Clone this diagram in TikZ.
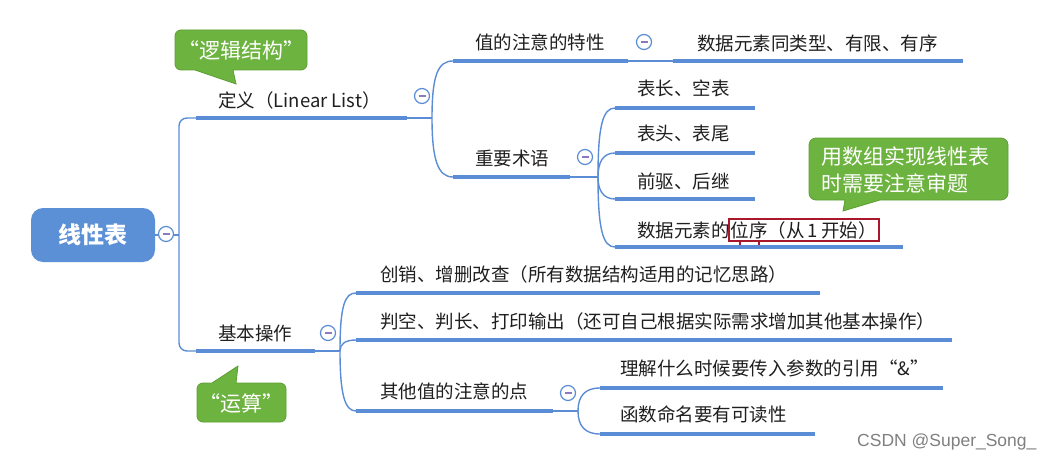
\documentclass[tikz,border=0pt]{standalone}
\usepackage{fontspec}
\setmainfont{Noto Sans CJK SC}
\newfontfamily\wmfont{Liberation Sans}
\definecolor{lineblue}{HTML}{5B8DD6}
\definecolor{rootblue}{HTML}{5B8FD6}
\definecolor{cgreen}{HTML}{6DB33F}
\definecolor{cgreenb}{HTML}{5E9E35}
\definecolor{boxred}{HTML}{A8172A}
\definecolor{minus}{HTML}{8A7BC0}
\tikzset{
  txt/.style={anchor=west,inner sep=0pt,font=\fontsize{18.5}{22}\selectfont,text=black!88},
  uline/.style={draw=lineblue,line width=4pt},
  conn/.style={draw=lineblue,line width=1.4pt},
  collapse/.style={circle,draw=lineblue,fill=white,line width=1.2pt,minimum size=15pt,inner sep=0pt},
  cbox/.style={fill=cgreen,draw=cgreenb,line width=0.8pt},
  ctext/.style={text=white,font=\fontsize{21}{27}\selectfont,inner sep=0pt},
}
\newcommand{\minusmark}[1]{\draw[minus,line width=1.3pt] ([xshift=-3.5pt]#1.center) -- ([xshift=3.5pt]#1.center);}
\begin{document}
\begin{tikzpicture}[x=1pt,y=-1pt]
\useasboundingbox (0,0) rectangle (1058,460);
\fill[white] (0,0) rectangle (1058,460);

% ---------- root ----------
\node[fill=rootblue,rounded corners=12pt,minimum width=124pt,minimum height=54pt,inner sep=0pt,
      text=white,font=\fontsize{23}{28}\selectfont\bfseries] (root) at (93,235) {线性表};

% trunk coordinates
\coordinate (trunkT) at (179,118);
\coordinate (trunkB) at (179,351);
\coordinate (defL) at (196,118);   \coordinate (defR) at (407,118);
\coordinate (opL) at (196,351);    \coordinate (opR) at (315,351);

\draw[conn] (root.east) -- (179,235);
\draw[conn,rounded corners=8pt] (defL) -- (trunkT) -- (trunkB) -- (opL);
\node[collapse] (c0) at (166,234) {};
\minusmark{c0}

% ---------- 定义 ----------
\draw[uline] (defL) -- (defR);
\node[txt] (def) at (218,100) {定义（Linear List）};

\coordinate (defB) at (432,118);
\coordinate (valL) at (453,61);   \coordinate (valR) at (628,61);
\coordinate (termL) at (453,177); \coordinate (termR) at (570,177);
\draw[conn] (defR) -- (defB);
\draw[conn] (defB) .. controls (432,75) and (438,61) .. (valL);
\draw[conn] (defB) .. controls (432,160) and (438,177) .. (termL);
\node[collapse] (c1) at (422,96) {};
\minusmark{c1}

% 值的注意的特性
\draw[uline] (valL) -- (valR);
\node[txt] (val) at (475,42) {值的注意的特性};
\coordinate (propL) at (673,61); \coordinate (propR) at (963,61);
\draw[conn] (valR) -- (propL);
\draw[uline] (propL) -- (propR);
\node[collapse] (c2) at (644,42) {};
\minusmark{c2}
\node[txt] (prop) at (697,43) {数据元素同类型、有限、有序};

% 重要术语
\draw[uline] (termL) -- (termR);
\node[txt] (term) at (475,158) {重要术语};
\node[collapse] (c3) at (585,157) {};
\minusmark{c3}

\coordinate (termB) at (598,177);
\coordinate (t1L) at (615,108); \coordinate (t1R) at (755,108);
\coordinate (t2L) at (615,153); \coordinate (t2R) at (755,153);
\coordinate (t3L) at (615,199); \coordinate (t3R) at (755,199);
\coordinate (t4L) at (615,247); \coordinate (t4R) at (903,247);
\draw[conn] (termR) -- (termB);
\draw[conn] (termB) .. controls (598,125) and (603,108) .. (t1L);
\draw[conn] (termB) .. controls (598,162) and (603,153) .. (t2L);
\draw[conn] (termB) .. controls (598,190) and (603,199) .. (t3L);
\draw[conn] (termB) .. controls (598,230) and (603,247) .. (t4L);
\draw[uline] (t1L) -- (t1R);
\draw[uline] (t2L) -- (t2R);
\draw[uline] (t3L) -- (t3R);
\draw[uline] (t4L) -- (t4R);
\node[txt] (t1) at (637,88) {表长、空表};
\node[txt] (t2) at (637,133) {表头、表尾};
\node[txt] (t3) at (637,181) {前驱、后继};
\node[txt] (t4a) at (637,230) {数据元素的};
\node[txt,anchor=west,draw=boxred,line width=2pt,inner xsep=2pt,inner ysep=2pt,text=black!88] (t4b)
     at ([xshift=-2pt]t4a.east) {位序（从\,1\,开始）};
\draw[boxred,line width=2pt] (740,240) -- (740,245);
\draw[boxred,line width=2pt] (759,240) -- (759,245);

% ---------- 基本操作 ----------
\draw[uline] (opL) -- (opR);
\node[txt] (op) at (218,333) {基本操作};
\node[collapse] (c4) at (328,333) {};
\minusmark{c4}

\coordinate (opB) at (340,351);
\coordinate (o1L) at (356,293); \coordinate (o1R) at (820,293);
\coordinate (o2L) at (356,340); \coordinate (o2R) at (952,340);
\coordinate (o3L) at (356,411); \coordinate (o3R) at (553,411);
\draw[conn] (opR) -- (opB);
\draw[conn] (opB) .. controls (340,305) and (345,293) .. (o1L);
\draw[conn] (opB) .. controls (340,344) and (345,340) .. (o2L);
\draw[conn] (opB) .. controls (340,395) and (345,411) .. (o3L);
\draw[uline] (o1L) -- (o1R);
\draw[uline] (o2L) -- (o2R);
\draw[uline] (o3L) -- (o3R);
\node[txt] (o1) at (380,274) {创销、增删改查（所有数据结构适用的记忆思路）};
\node[txt] (o2) at (380,321) {判空、判长、打印输出（还可自己根据实际需求增加其他基本操作）};
\node[txt] (o3) at (380,391) {其他值的注意的点};
\node[collapse] (c5) at (568,393) {};
\minusmark{c5}

\coordinate (o3B) at (578,411);
\coordinate (p1L) at (600,388); \coordinate (p1R) at (943,388);
\coordinate (p2L) at (600,434); \coordinate (p2R) at (815,434);
\draw[conn] (o3R) -- (o3B);
\draw[conn] (o3B) .. controls (578,396) and (585,388) .. (p1L);
\draw[conn] (o3B) .. controls (578,426) and (585,434) .. (p2L);
\draw[uline] (p1L) -- (p1R);
\draw[uline] (p2L) -- (p2R);
\node[txt] (p1) at (620,368) {理解什么时候要传入参数的引用“\&”};
\node[txt] (p2) at (620,414) {函数命名要有可读性};

% ---------- callouts ----------
\draw[cbox] (175,50) [rounded corners=6pt] -- (175,30) -- (307,30) -- (307,70) [sharp corners] -- (233,70) -- (236,84) -- (195,70) [rounded corners=6pt] -- (175,70) -- cycle;
\node[ctext] (cl1) at (241,50) {“逻辑结构”};

\draw[cbox] (809,169) [rounded corners=7pt] -- (809,138) -- (1008,138) -- (1008,200) [sharp corners] -- (880,200) -- (843,211) -- (845,200) [rounded corners=7pt] -- (809,200) -- cycle;
\node[ctext,align=left,anchor=west] (cl2) at (821,170) {用数组实现线性表\\时需要注意审题};

\draw[cbox] (197,402) [rounded corners=6pt] -- (197,383) [sharp corners] -- (212,383) -- (238,366) -- (236,383) [rounded corners=6pt] -- (286,383) -- (286,422) -- (197,422) -- cycle;
\node[ctext] (cl3) at (241,403) {“运算”};

% watermark
\node[anchor=west,inner sep=0pt,text=black!50,font=\wmfont\fontsize{17.5}{20}\selectfont] (wm) at (857,442) {CSDN @Super\_Song\_};
\end{tikzpicture}
\end{document}
